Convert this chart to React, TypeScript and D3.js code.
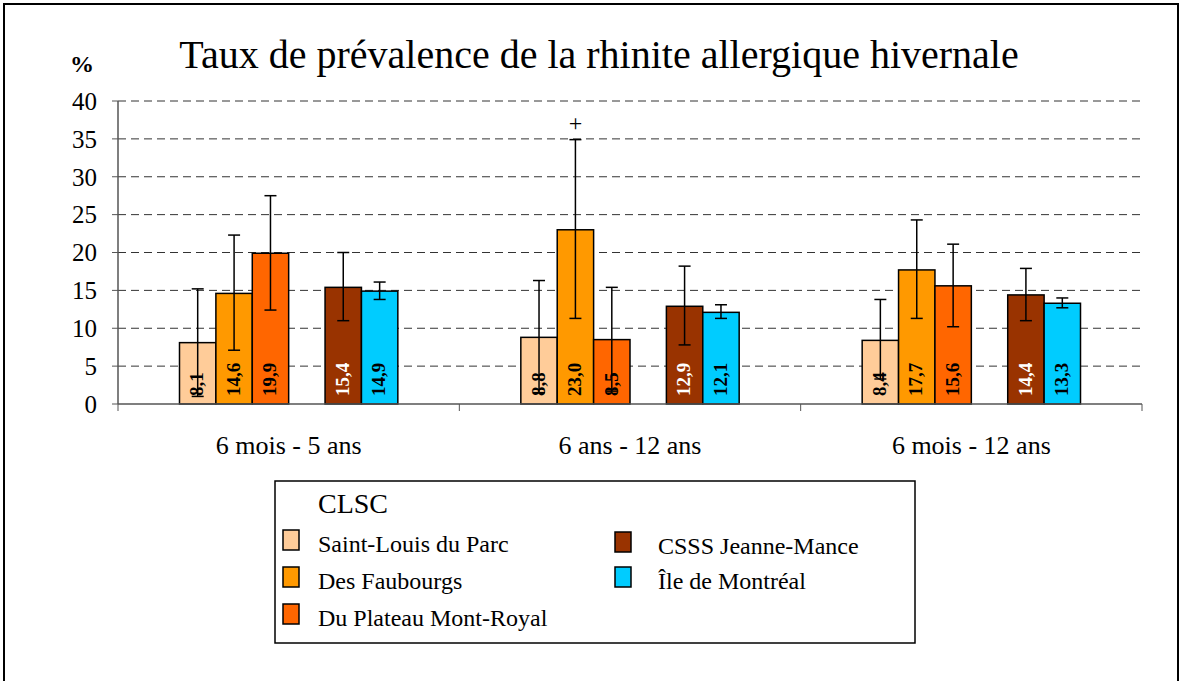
import React, { useRef, useEffect } from "react";
import { select, scaleLinear, scaleBand, range } from "d3";

const groups = ["6 mois - 5 ans", "6 ans - 12 ans", "6 mois - 12 ans"];
const seriesNames = [
  "Saint-Louis du Parc",
  "Des Faubourgs",
  "Du Plateau Mont-Royal",
  "",
  "CSSS Jeanne-Mance",
  "Île de Montréal",
];
const seriesColors = ["#FFCC99", "#FF9900", "#FF6600", "none", "#993300", "#00CCFF"];
const labelColors = ["#000", "#000", "#000", "#000", "#fff", "#000"];

// one array per series, one value per group (null = empty slot)
const stLouis = [8.1, 8.8, 8.4];
const faubourgs = [14.6, 23.0, 17.7];
const plateau = [19.9, 8.5, 15.6];
const empty = [null, null, null];
const jeanneMance = [15.4, 12.9, 14.4];
const ileMtl = [14.9, 12.1, 13.3];

const stLouisLow = [1.0, 1.5, 3.3];
const stLouisHigh = [15.2, 16.3, 13.8];
const faubourgsLow = [7.1, 11.3, 11.3];
const faubourgsHigh = [22.3, 34.9, 24.3];
const plateauLow = [12.4, 1.7, 10.2];
const plateauHigh = [27.5, 15.4, 21.1];
const jeanneManceLow = [11.0, 7.8, 11.0];
const jeanneManceHigh = [20.0, 18.2, 17.9];
const ileMtlLow = [13.8, 11.3, 12.7];
const ileMtlHigh = [16.1, 13.1, 14.0];

const yTicks = [0, 5, 10, 15, 20, 25, 30, 35, 40];

const values = [stLouis, faubourgs, plateau, empty, jeanneMance, ileMtl];
const lows = [stLouisLow, faubourgsLow, plateauLow, empty, jeanneManceLow, ileMtlLow];
const highs = [stLouisHigh, faubourgsHigh, plateauHigh, empty, jeanneManceHigh, ileMtlHigh];

const serif = "'Liberation Serif', 'Times New Roman', serif";

const App: React.FC = () => {
  const svgRef = useRef(null);

  useEffect(() => {
    const svg = select(svgRef.current);
    svg.selectAll("*").remove();

    // frame
    svg
      .append("rect")
      .attr("x", 4)
      .attr("y", 4)
      .attr("width", 1174)
      .attr("height", 700)
      .attr("fill", "white")
      .attr("stroke", "black")
      .attr("stroke-width", 2);

    const x0 = scaleBand().domain(groups).range([118, 1142]);
    const x1 = scaleBand<number>()
      .domain(range(6))
      .range([0, x0.bandwidth()])
      .paddingOuter(1.69);
    const y = scaleLinear().domain([0, 40]).range([404, 101]);

    // title
    svg
      .append("text")
      .attr("x", 599)
      .attr("y", 68)
      .attr("text-anchor", "middle")
      .attr("font-family", serif)
      .attr("font-size", 40)
      .text("Taux de prévalence de la rhinite allergique hivernale");

    svg
      .append("text")
      .attr("x", 82)
      .attr("y", 72)
      .attr("text-anchor", "middle")
      .attr("font-family", serif)
      .attr("font-weight", "bold")
      .attr("font-size", 24)
      .text("%");

    // gridlines
    svg
      .append("g")
      .selectAll("line")
      .data(yTicks.filter((d) => d > 0))
      .join("line")
      .attr("x1", 118)
      .attr("x2", 1142)
      .attr("y1", (d) => y(d))
      .attr("y2", (d) => y(d))
      .attr("stroke", "#333")
      .attr("stroke-width", 1)
      .attr("stroke-dasharray", "8,5");

    // y axis
    const yAxis = svg.append("g");
    yAxis
      .append("line")
      .attr("x1", 118)
      .attr("x2", 118)
      .attr("y1", y(40))
      .attr("y2", y(0))
      .attr("stroke", "#555")
      .attr("stroke-width", 1.5);
    yAxis
      .selectAll("line.tick")
      .data(yTicks)
      .join("line")
      .attr("class", "tick")
      .attr("x1", 112)
      .attr("x2", 118)
      .attr("y1", (d) => y(d))
      .attr("y2", (d) => y(d))
      .attr("stroke", "#555");
    yAxis
      .selectAll("text")
      .data(yTicks)
      .join("text")
      .attr("x", 97)
      .attr("y", (d) => y(d))
      .attr("dy", "0.35em")
      .attr("text-anchor", "end")
      .attr("font-family", serif)
      .attr("font-size", 25)
      .text((d) => d);

    // bars
    values.forEach((vals, s) => {
      const g = svg.append("g");
      groups.forEach((grp, i) => {
        const v = vals[i];
        if (v == null) return;
        const bx = (x0(grp) as number) + (x1(s) as number);
        const bw = x1.bandwidth();
        g.append("rect")
          .attr("x", bx)
          .attr("y", y(v))
          .attr("width", bw)
          .attr("height", y(0) - y(v))
          .attr("fill", seriesColors[s])
          .attr("stroke", "black")
          .attr("stroke-width", 1.5);
      });
    });

    // value labels
    values.forEach((vals, s) => {
      groups.forEach((grp, i) => {
        const v = vals[i];
        if (v == null) return;
        const cx = (x0(grp) as number) + (x1(s) as number) + x1.bandwidth() / 2;
        svg
          .append("text")
          .attr("transform", `translate(${cx},${y(0) - 8}) rotate(-90)`)
          .attr("dy", "0.3em")
          .attr("font-family", serif)
          .attr("font-weight", "bold")
          .attr("font-size", 19)
          .attr("fill", labelColors[s])
          .text(v.toFixed(1).replace(".", ","));
      });
    });

    // error bars
    values.forEach((vals, s) => {
      groups.forEach((grp, i) => {
        const lo = lows[s][i];
        const hi = highs[s][i];
        if (lo == null || hi == null) return;
        const cx = (x0(grp) as number) + (x1(s) as number) + x1.bandwidth() / 2;
        const eg = svg.append("g").attr("stroke", "black").attr("stroke-width", 1.5);
        eg.append("line").attr("x1", cx).attr("x2", cx).attr("y1", y(lo)).attr("y2", y(hi));
        eg.append("line").attr("x1", cx - 6).attr("x2", cx + 6).attr("y1", y(lo)).attr("y2", y(lo));
        eg.append("line").attr("x1", cx - 6).attr("x2", cx + 6).attr("y1", y(hi)).attr("y2", y(hi));
      });
    });

    // "+" marker above Des Faubourgs, 6 ans - 12 ans
    const plusX = (x0(groups[1]) as number) + (x1(1) as number) + x1.bandwidth() / 2;
    svg
      .append("text")
      .attr("x", plusX)
      .attr("y", y(faubourgsHigh[1]) - 9)
      .attr("text-anchor", "middle")
      .attr("font-family", serif)
      .attr("font-size", 24)
      .text("+");

    // x axis
    const xAxis = svg.append("g");
    xAxis
      .append("line")
      .attr("x1", 118)
      .attr("x2", 1142)
      .attr("y1", y(0))
      .attr("y2", y(0))
      .attr("stroke", "#555")
      .attr("stroke-width", 1.5);
    xAxis
      .selectAll("line.tick")
      .data([118, ...groups.map((g) => (x0(g) as number) + x0.bandwidth())])
      .join("line")
      .attr("class", "tick")
      .attr("x1", (d) => d)
      .attr("x2", (d) => d)
      .attr("y1", y(0))
      .attr("y2", y(0) + 7)
      .attr("stroke", "#555");
    xAxis
      .selectAll("text")
      .data(groups)
      .join("text")
      .attr("x", (d) => (x0(d) as number) + x0.bandwidth() / 2)
      .attr("y", 454)
      .attr("text-anchor", "middle")
      .attr("font-family", serif)
      .attr("font-size", 26)
      .text((d) => d);

    // legend
    const lg = svg.append("g");
    lg.append("rect")
      .attr("x", 275)
      .attr("y", 481)
      .attr("width", 640)
      .attr("height", 162)
      .attr("fill", "white")
      .attr("stroke", "black")
      .attr("stroke-width", 1.5);
    lg.append("text")
      .attr("x", 318)
      .attr("y", 513)
      .attr("font-family", serif)
      .attr("font-size", 28)
      .text("CLSC");
    const items = seriesNames
      .map((name, s) => ({ name, s }))
      .filter((d) => d.name !== "");
    items.forEach((d, k) => {
      const col = k < 3 ? 0 : 1;
      const row = k < 3 ? k : k - 3;
      const sx = col === 0 ? 283 : 615;
      const tx = col === 0 ? 318 : 658;
      const base = (col === 0 ? 552 : 554) + row * (col === 0 ? 37 : 35);
      lg.append("rect")
        .attr("x", sx)
        .attr("y", base - 22)
        .attr("width", 16)
        .attr("height", 20)
        .attr("fill", seriesColors[d.s])
        .attr("stroke", "black")
        .attr("stroke-width", 1.5);
      lg.append("text")
        .attr("x", tx)
        .attr("y", base)
        .attr("font-family", serif)
        .attr("font-size", 24)
        .text(d.name);
    });
  }, []);

  return (
    <svg
      ref={svgRef}
      width={1182}
      height={681}
      style={{ position: "absolute", left: 0, top: 0 }}
    ></svg>
  );
};

export default App;
